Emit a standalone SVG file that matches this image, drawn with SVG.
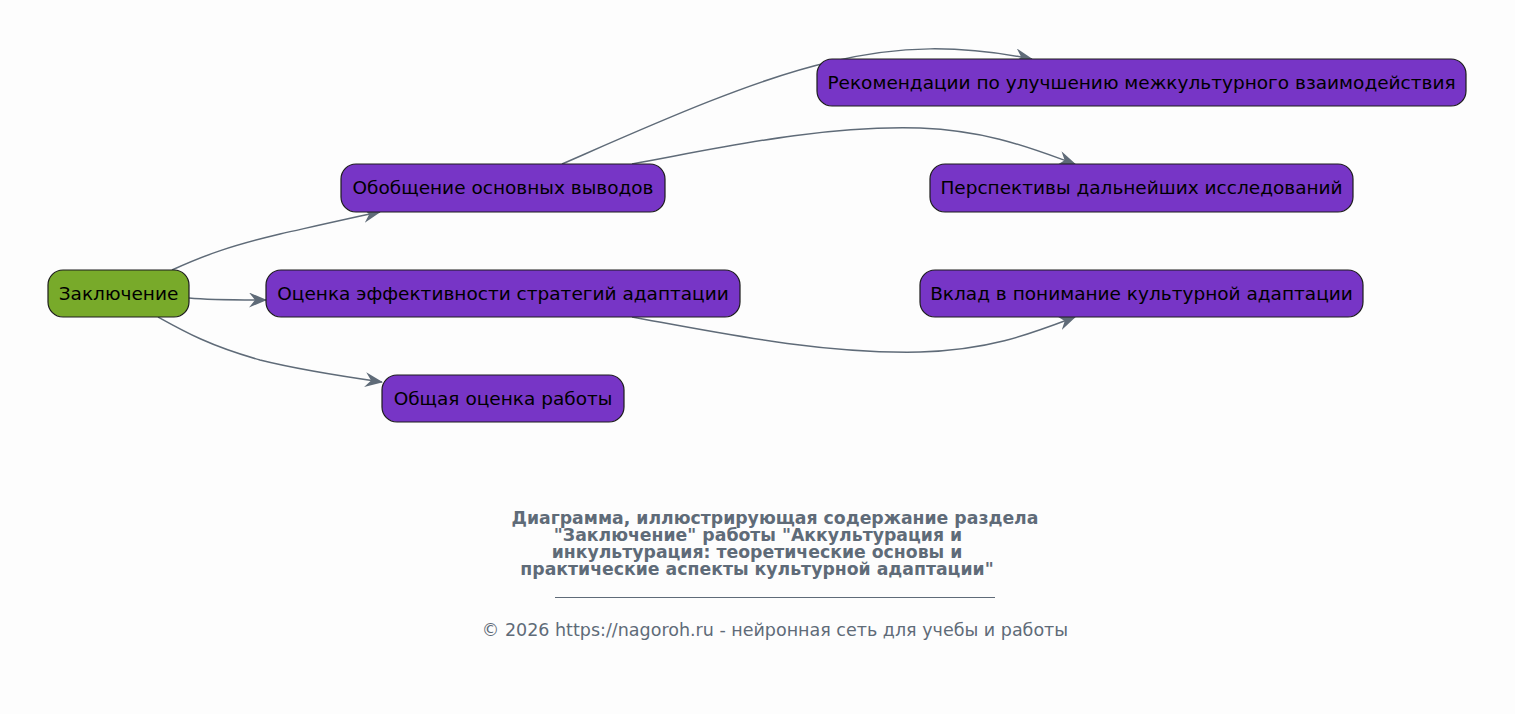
<svg xmlns="http://www.w3.org/2000/svg" width="1515" height="714" viewBox="0 0 1515 714">
<defs>
<style>
.node rect{stroke:#1c1c1c;stroke-width:1.2}
.leaf rect{fill:#7735c6}
.root rect{fill:#78aa2a}
.node text{font-family:"DejaVu Sans",sans-serif;font-size:18.5px;fill:#000;text-anchor:middle;dominant-baseline:central}
.edges path{fill:none;stroke:#5f6b78;stroke-width:1.5;marker-end:url(#arr)}
.cap{font-family:"DejaVu Sans",sans-serif;font-size:17.3px;font-weight:bold;fill:#5f6b78;text-anchor:middle}
.copy{font-family:"DejaVu Sans",sans-serif;font-size:17.5px;fill:#5f6b78;text-anchor:middle}
</style>
<marker id="arr" viewBox="0 0 18 15" refX="17" refY="7.5" markerWidth="18" markerHeight="15" markerUnits="userSpaceOnUse" orient="auto">
<path d="M0,0 L18,7.5 L0,15 L6,7.5 z" fill="#5f6b78"/>
</marker>
</defs>
<rect width="1515" height="714" fill="#fdfdfd"/>
<g class="edges">
<path d="M172,270 C205,255 230,246 280,234 C320,225 350,218 380,212"/>
<path d="M189,298 C210,300 225,300 266,300"/>
<path d="M158,317 C185,332 210,346 260,360 C300,370 340,376 382,382"/>
<path d="M562,164 C640,130 750,80 830,62 C900,45 960,45 1032,59"/>
<path d="M632,164 C720,148 820,125 920,128 C990,131 1030,148 1075,164"/>
<path d="M632,317 C720,333 820,354 920,352 C990,350 1030,334 1075,317"/>
</g>
<g id="n1" class="node root"><rect x="48" y="270" width="141" height="47" rx="15"/><text x="118.5" y="293">Заключение</text></g>
<g id="n2" class="node leaf"><rect x="341" y="164" width="324" height="48" rx="15"/><text x="503" y="187.5">Обобщение основных выводов</text></g>
<g id="n3" class="node leaf"><rect x="266" y="270" width="474" height="47" rx="15"/><text x="503" y="293">Оценка эффективности стратегий адаптации</text></g>
<g id="n4" class="node leaf"><rect x="382" y="375" width="242" height="47" rx="15"/><text x="503" y="398">Общая оценка работы</text></g>
<g id="n5" class="node leaf"><rect x="817" y="59" width="649" height="47" rx="15"/><text x="1141.5" y="82">Рекомендации по улучшению межкультурного взаимодействия</text></g>
<g id="n6" class="node leaf"><rect x="930" y="164" width="423" height="48" rx="15"/><text x="1141.5" y="187.5">Перспективы дальнейших исследований</text></g>
<g id="n7" class="node leaf"><rect x="920" y="270" width="443" height="47" rx="15"/><text x="1141.5" y="293">Вклад в понимание культурной адаптации</text></g>
<g id="caption">
<text class="cap" x="775" y="524">Диаграмма, иллюстрирующая содержание раздела</text>
<text class="cap" x="758" y="541">"Заключение" работы "Аккультурация и</text>
<text class="cap" x="757" y="558">инкультурация: теоретические основы и</text>
<text class="cap" x="757" y="575">практические аспекты культурной адаптации"</text>
<line x1="555" y1="597.5" x2="995" y2="597.5" stroke="#5f6b78" stroke-width="1"/>
<text class="copy" x="775" y="636">© 2026 https://nagoroh.ru - нейронная сеть для учебы и работы</text>
</g>
</svg>
